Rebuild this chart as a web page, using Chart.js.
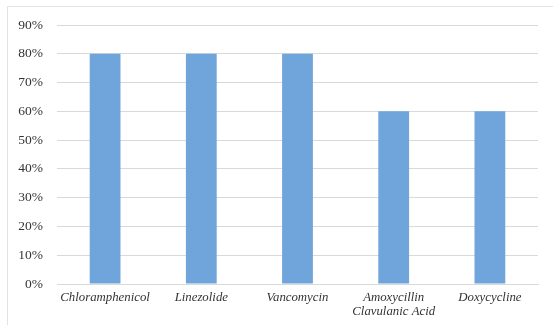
<!DOCTYPE html>
<html>
<head>
<meta charset="utf-8">
<script src="https://cdn.jsdelivr.net/npm/chart.js@4"></script>
<style>
  html, body { margin: 0; padding: 0; background: #fff; }
  #wrap { position: relative; width: 553px; height: 325px; }
  #frame { position: absolute; left: 7px; top: 6px; right: -2px; bottom: -2px; border: 1px solid #e3e3e3; }
  canvas { position: absolute; left: 0; top: 0; }
</style>
</head>
<body>
<div id="wrap">
  <div id="frame"></div>
  <canvas id="resistanceChart" width="553" height="325"></canvas>
</div>
<script>
const antibiotics = [
  'Chloramphenicol',
  'Linezolide',
  'Vancomycin',
  ['Amoxycillin', 'Clavulanic Acid'],
  'Doxycycline'
];
const percentValues = [80, 80, 80, 60, 60];
const yTicks = [0, 10, 20, 30, 40, 50, 60, 70, 80, 90];

const ctx = document.getElementById('resistanceChart').getContext('2d');

new Chart(ctx, {
  type: 'bar',
  data: {
    labels: antibiotics,
    datasets: [{
      data: percentValues,
      backgroundColor: '#6FA5DA',
      borderWidth: 0,
      categoryPercentage: 1,
      barPercentage: 0.32
    }]
  },
  options: {
    responsive: false,
    animation: false,
    layout: { padding: { top: 25, right: 15, left: 0, bottom: 0 } },
    plugins: {
      legend: { display: false },
      tooltip: { enabled: false }
    },
    scales: {
      x: {
        grid: { display: false, drawTicks: false },
        border: { display: true, color: '#d9d9d9', width: 1 },
        ticks: {
          color: '#333333',
          padding: 7,
          maxRotation: 0,
          autoSkip: false,
          font: { family: "'Liberation Serif', serif", size: 12.8, style: 'italic', lineHeight: 1.05 }
        },
        afterFit: (scale) => { scale.height = 41; }
      },
      y: {
        min: 0,
        max: 90,
        afterBuildTicks: (scale) => { scale.ticks = yTicks.map(v => ({ value: v })); },
        grid: { color: '#d9d9d9', drawTicks: false },
        border: { display: false },
        ticks: {
          color: '#333333',
          padding: 14,
          callback: (v) => v + '%',
          font: { family: "'Liberation Serif', serif", size: 13.5 }
        },
        afterFit: (scale) => { scale.width = 57; }
      }
    }
  }
});
</script>
</body>
</html>
